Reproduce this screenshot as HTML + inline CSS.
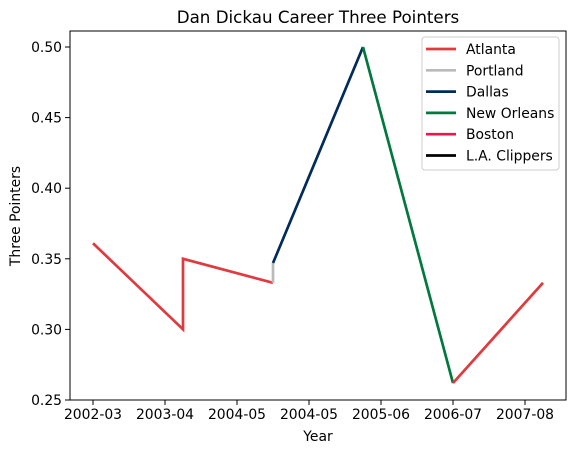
<!DOCTYPE html>
<html><head><meta charset="utf-8"><style>
body{margin:0;background:#fff;font-family:"Liberation Sans","DejaVu Sans",sans-serif;}
svg text{font-family:"DejaVu Sans","Liberation Sans",sans-serif;}
</style></head><body>
<svg id="chart" width="579" height="453" xmlns="http://www.w3.org/2000/svg"></svg>
<script>
const tickLabels = ["2002-03","2003-04","2004-05","2004-05","2005-06","2006-07","2007-08"];
const tickPos = [0,0.8,1.6,2.4,3.2,4.0,4.8];
const yTicks = [0.25,0.30,0.35,0.40,0.45,0.50];
const teams = ["Atlanta","Portland","Dallas","New Orleans","Boston","L.A. Clippers"];
const colors = ["#e03a3e","#bababa","#002b5c","#00783e","#f0134d","#000000"];
const atlanta1X = [0,1,1,2], atlanta1Y = [0.361,0.300,0.350,0.333];
const portlandX = [2,2], portlandY = [0.333,0.347];
const dallasX = [2,3], dallasY = [0.347,0.500];
const neworleansX = [3,4], neworleansY = [0.500,0.262];
const atlanta2X = [4,5], atlanta2Y = [0.262,0.333];
const NS="http://www.w3.org/2000/svg";
const svg=document.getElementById('chart');
const L=70,R=566,T=31,B=400;
const xs=v=>93+v*90;
const ys=v=>400-(v-0.25)/0.25*353;
function el(t,a,p){const e=document.createElementNS(NS,t);for(const k in a)e.setAttribute(k,a[k]);(p||svg).appendChild(e);return e;}
function txt(x,y,s,a){const e=el('text',Object.assign({x:x,y:y,'font-size':13.9,fill:'#000'},a||{}));e.textContent=s;return e;}
const t=txt(318,23,"Dan Dickau Career Three Pointers",{'text-anchor':'middle','font-size':16.7});


function line(X,Y,c,name){const pts=X.map((x,i)=>xs(x)+','+ys(Y[i])).join(' ');const p=el('polyline',{points:pts,fill:'none',stroke:c,'stroke-width':2.7,'stroke-linejoin':'miter'});

}
line(atlanta1X,atlanta1Y,colors[0],'atlanta-line-1');
line(portlandX,portlandY,colors[1],'portland-line');
line(dallasX,dallasY,colors[2],'dallas-line');
line(neworleansX,neworleansY,colors[3],'new-orleans-line');
line(atlanta2X,atlanta2Y,colors[0],'atlanta-line-2');
const frame=el('rect',{x:L,y:T,width:R-L,height:B-T,fill:'none',stroke:'#000','stroke-width':1});


tickPos.forEach((p,i)=>{const x=xs(p);el('line',{x1:x,x2:x,y1:B,y2:B+5,stroke:'#000'});const e=txt(x,B+19,tickLabels[i],{'text-anchor':'middle'});

});
yTicks.forEach(v=>{const y=ys(v);el('line',{x1:L-5,x2:L,y1:y,y2:y,stroke:'#000'});const e=txt(L-8,y+5,v.toFixed(2),{'text-anchor':'end'});

});
const xt=txt(318,441,"Year",{'text-anchor':'middle'});


const yt=txt(0,0,"Three Pointers",{'text-anchor':'middle',transform:'translate(20,216) rotate(-90)'});


const lg=el('g',{});


el('rect',{x:422,y:37,width:137,height:133,rx:3,fill:'#fff',stroke:'#ccc','fill-opacity':0.8},lg);
teams.forEach((n,i)=>{const y=49+i*21.3;const g=el('g',{},lg);


el('line',{x1:426,x2:456,y1:y,y2:y,stroke:colors[i],'stroke-width':2.7},g);const e=txt(466,y+5,n,{});g.appendChild(e);});
</script>
</body></html>
